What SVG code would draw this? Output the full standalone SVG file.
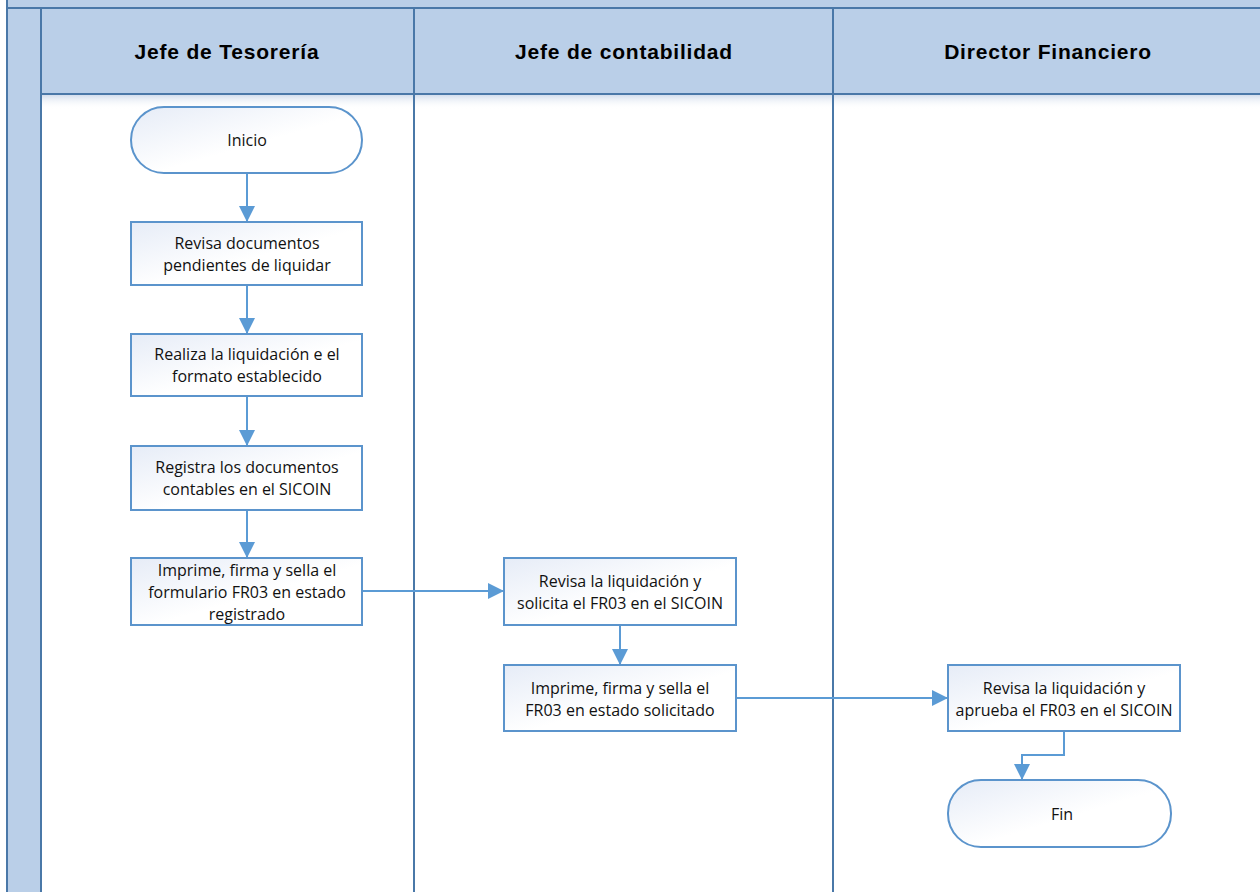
<svg xmlns="http://www.w3.org/2000/svg" width="1260" height="892" viewBox="0 0 1260 892">
  <defs>
    <linearGradient id="nodeFill" x1="0" y1="0" x2="1" y2="1">
      <stop offset="0" stop-color="#e6ecf7"/>
      <stop offset="0.55" stop-color="#ffffff"/>
      <stop offset="1" stop-color="#ffffff"/>
    </linearGradient>
    <linearGradient id="headShadow" x1="0" y1="0" x2="0" y2="1">
      <stop offset="0" stop-color="#c9d6e8" stop-opacity="0.8"/>
      <stop offset="1" stop-color="#ffffff" stop-opacity="0"/>
    </linearGradient>
    <marker id="arrow" viewBox="0 0 16 16" refX="16" refY="8" markerWidth="16" markerHeight="16" markerUnits="userSpaceOnUse" orient="auto">
      <path d="M0,0 L16,8 L0,16 z" fill="#5b9bd5"/>
    </marker>
    <style>
      .band { fill: #bacfe8; }
      .rule { stroke: #4a78a8; stroke-width: 2; fill: none; }
      .head { font-family: "Liberation Sans", Arial, sans-serif; font-size: 21px; font-weight: bold; fill: #000; text-anchor: middle; letter-spacing: 0.8px; }
      .node { fill: url(#nodeFill); stroke: #5b94cc; stroke-width: 2; }
      .label { font-family: "Open Sans", "Liberation Sans", sans-serif; font-size: 16px; fill: #111; text-anchor: middle; }
      .link { stroke: #5b9bd5; stroke-width: 2; fill: none; marker-end: url(#arrow); }
    </style>
  </defs>

  <!-- pool frame -->
  <g id="pool">
    <rect x="0" y="0" width="1260" height="892" fill="#ffffff"/>
    <rect class="band" x="7" y="0" width="1253" height="8"/>
    <rect class="band" x="7" y="8" width="34" height="884"/>
    <rect class="band" x="41" y="8" width="1219" height="86"/>
    <rect x="41" y="95" width="1219" height="14" fill="url(#headShadow)"/>
    <line class="rule" x1="7" y1="8" x2="1260" y2="8"/>
    <line class="rule" x1="7" y1="0" x2="7" y2="892"/>
    <line class="rule" x1="41" y1="8" x2="41" y2="892"/>
    <line class="rule" x1="41" y1="94" x2="1260" y2="94"/>
    <line class="rule" x1="414" y1="8" x2="414" y2="892"/>
    <line class="rule" x1="833" y1="8" x2="833" y2="892"/>
  </g>

  <!-- lane headers -->
  <g id="lane-tesoreria"><text class="head" x="227" y="59">Jefe de Tesorería</text></g>
  <g id="lane-contabilidad"><text class="head" x="624" y="59">Jefe de contabilidad</text></g>
  <g id="lane-director"><text class="head" x="1048" y="59">Director Financiero</text></g>

  <!-- connectors -->
  <g id="connectors">
    <line class="link" x1="247" y1="173" x2="247" y2="222"/>
    <line class="link" x1="247" y1="285" x2="247" y2="334"/>
    <line class="link" x1="247" y1="396" x2="247" y2="446"/>
    <line class="link" x1="247" y1="510" x2="247" y2="558"/>
    <line class="link" x1="362" y1="591" x2="504" y2="591"/>
    <line class="link" x1="620" y1="625" x2="620" y2="665"/>
    <line class="link" x1="736" y1="698" x2="948" y2="698"/>
    <polyline class="link" points="1064,731 1064,755 1022,755 1022,780"/>
  </g>

  <!-- nodes -->
  <g id="inicio">
    <rect class="node" x="131" y="107" width="231" height="66" rx="33" ry="33"/>
    <text class="label" x="247" y="146">Inicio</text>
  </g>
  <g id="revisa-documentos">
    <rect class="node" x="131" y="222" width="231" height="63"/>
    <text class="label" x="247" y="249">Revisa documentos</text>
    <text class="label" x="247" y="271">pendientes de liquidar</text>
  </g>
  <g id="realiza-liquidacion">
    <rect class="node" x="131" y="334" width="231" height="62"/>
    <text class="label" x="247" y="360">Realiza la liquidación e el</text>
    <text class="label" x="247" y="382">formato establecido</text>
  </g>
  <g id="registra-documentos">
    <rect class="node" x="131" y="446" width="231" height="64"/>
    <text class="label" x="247" y="473">Registra los documentos</text>
    <text class="label" x="247" y="495">contables en el SICOIN</text>
  </g>
  <g id="imprime-registrado">
    <rect class="node" x="131" y="558" width="231" height="67"/>
    <text class="label" x="247" y="576">Imprime, firma y sella el</text>
    <text class="label" x="247" y="598">formulario FR03 en estado</text>
    <text class="label" x="247" y="620">registrado</text>
  </g>
  <g id="revisa-solicita">
    <rect class="node" x="504" y="558" width="232" height="67"/>
    <text class="label" x="620" y="587">Revisa la liquidación y</text>
    <text class="label" x="620" y="609">solicita el FR03 en el SICOIN</text>
  </g>
  <g id="imprime-solicitado">
    <rect class="node" x="504" y="665" width="232" height="66"/>
    <text class="label" x="620" y="694">Imprime, firma y sella el</text>
    <text class="label" x="620" y="716">FR03 en estado solicitado</text>
  </g>
  <g id="revisa-aprueba">
    <rect class="node" x="948" y="665" width="232" height="66"/>
    <text class="label" x="1064" y="694">Revisa la liquidación y</text>
    <text class="label" x="1064" y="716">aprueba el FR03 en el SICOIN</text>
  </g>
  <g id="fin">
    <rect class="node" x="948" y="780" width="223" height="67" rx="33" ry="33"/>
    <text class="label" x="1062" y="820">Fin</text>
  </g>
</svg>
